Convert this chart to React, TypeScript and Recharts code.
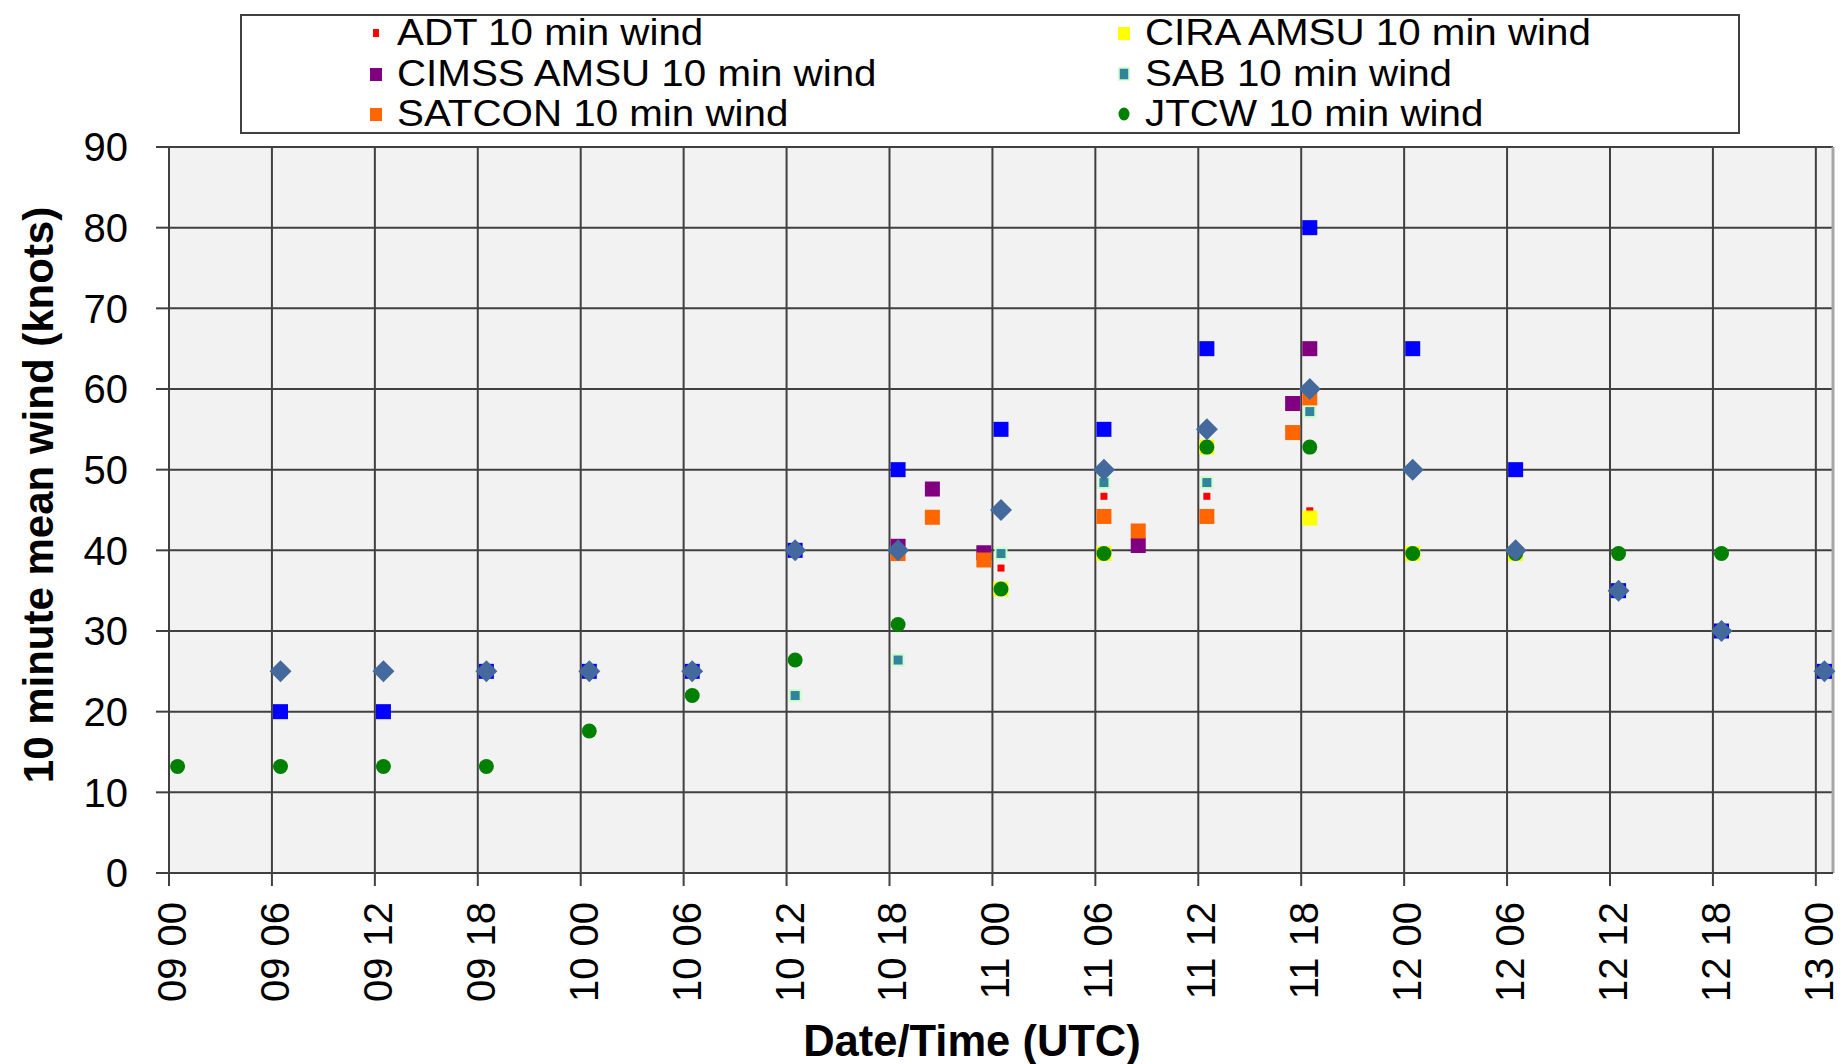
import React from 'react';
import { ScatterChart, Scatter, XAxis, YAxis, CartesianGrid, Legend, ReferenceLine } from 'recharts';

const FONT = '"Liberation Sans", Arial, Helvetica, sans-serif';

// x values are hours after 09/00 UTC
const xTicks = [0, 6, 12, 18, 24, 30, 36, 42, 48, 54, 60, 66, 72, 78, 84, 90, 96];
const yTicks = [0, 10, 20, 30, 40, 50, 60, 70, 80, 90];

const adtHours = [48.5, 54.5, 60.5, 66.5];
const adtWind = [37.8, 46.7, 46.7, 44.9];

const ciraHours = [48.5, 54.5, 60.5, 66.5, 72.5, 78.5];
const ciraWind = [35.2, 39.6, 52.8, 44.0, 39.6, 39.6];

const cimssHours = [42.5, 44.5, 47.5, 56.5, 65.5, 66.5];
const cimssWind = [40.5, 47.6, 39.7, 40.6, 58.2, 65.0];

const sabHours = [36.5, 42.5, 48.5, 54.5, 60.5, 66.5];
const sabWind = [22.0, 26.4, 39.6, 48.4, 48.4, 57.2];

const satconHours = [42.5, 44.5, 47.5, 54.5, 56.5, 60.5, 65.5, 66.5];
const satconWind = [39.6, 44.1, 38.8, 44.2, 42.4, 44.2, 54.6, 58.9];

const jtcwHours = [0.5, 6.5, 12.5, 18.5, 24.5, 30.5, 36.5, 42.5, 48.5, 54.5, 60.5, 66.5, 72.5, 78.5, 84.5, 90.5];
const jtcwWind = [13.2, 13.2, 13.2, 13.2, 17.6, 22.0, 26.4, 30.8, 35.2, 39.6, 52.8, 52.8, 39.6, 39.6, 39.6, 39.6];

const fixHours = [6.5, 12.5, 18.5, 24.5, 30.5, 36.5, 42.5, 48.5, 54.5, 60.5, 66.5, 72.5, 78.5, 84.5, 90.5, 96.5];
const blueWind = [20, 20, 25, 25, 25, 40, 50, 55, 55, 65, 80, 65, 50, 35, 30, 25];
const bestWind = [25, 25, 25, 25, 25, 40, 40, 45, 50, 55, 60, 50, 40, 35, 30, 25];

const zip = (hours: number[], wind: number[]) => hours.map((t, i) => ({ t, w: wind[i] }));

const fmtTick = (h: number) => {
  const day = 9 + Math.floor(h / 24);
  const hr = h % 24;
  return `${String(day).padStart(2, '0')} ${String(hr).padStart(2, '0')}`;
};

const square = (size: number, fill: string, stroke?: string) => (p: any) => (
  <rect
    x={p.cx - size / 2}
    y={p.cy - size / 2}
    width={size}
    height={size}
    fill={fill}
    stroke={stroke || 'none'}
    strokeWidth={stroke ? 2 : 0}
  />
);
const dot = (r: number, fill: string) => (p: any) => <circle cx={p.cx} cy={p.cy} r={r} fill={fill} />;
const diamond = (h: number, fill: string) => (p: any) => (
  <polygon
    points={`${p.cx},${p.cy - h} ${p.cx + h},${p.cy} ${p.cx},${p.cy + h} ${p.cx - h},${p.cy}`}
    fill={fill}
  />
);

// legend entries, in the order the legend lists them
const MARKERS: Record<string, React.ReactNode> = {
  'ADT 10 min wind': <rect x={7} y={6} width={6} height={8} fill="#ff0000" />,
  'CIRA AMSU 10 min wind': <rect x={4} y={4} width={12} height={13} fill="#ffff00" />,
  'CIMSS AMSU 10 min wind': <rect x={4} y={4} width={12} height={13} fill="#800080" />,
  'SAB 10 min wind': <rect x={5} y={4} width={10} height={12} fill="#31849b" stroke="#ccffcc" strokeWidth={1.5} />,
  'SATCON 10 min wind': <rect x={4} y={4} width={12} height={13} fill="#ff6600" />,
  'JTCW 10 min wind': <ellipse cx={10} cy={10} rx={5.5} ry={6.5} fill="#008000" />,
};
const legendOrder = Object.keys(MARKERS);

function LegendBox({ payload }: any) {
  const items = (payload || [])
    .filter((p: any) => p.type !== 'none' && MARKERS[p.value])
    .sort((a: any, b: any) => legendOrder.indexOf(a.value) - legendOrder.indexOf(b.value));
  return (
    <div
      style={{
        width: 1500,
        height: 120,
        boxSizing: 'border-box',
        border: '2px solid #404040',
        background: '#fff',
        fontFamily: FONT,
        fontSize: 36,
        color: '#000',
      }}
    >
      <div style={{ display: 'grid', gridTemplateColumns: '748px 748px', gridAutoRows: '40.5px', marginTop: -3 }}>
        {items.map((p: any) => (
          <div
            key={p.value}
            style={{ display: 'flex', alignItems: 'center', lineHeight: '40px', paddingLeft: 124, whiteSpace: 'nowrap' }}
          >
            <svg width={20} height={20} style={{ marginRight: 11 }}>
              {MARKERS[p.value]}
            </svg>
            <span style={{ display: 'inline-block', transform: 'scaleX(1.12)', transformOrigin: 'left center' }}>
              {p.value}
            </span>
          </div>
        ))}
      </div>
    </div>
  );
}

const XTick = ({ x, y, payload }: any) => (
  <text
    transform={`translate(${x},${y}) rotate(-90)`}
    textAnchor="end"
    dominantBaseline="central"
    dy={3}
    fontFamily={FONT}
    fontSize={40}
    fill="#000"
  >
    {fmtTick(payload.value)}
  </text>
);

const YTitle = ({ viewBox }: any) => (
  <text
    transform={`translate(${viewBox.x + 38},${viewBox.y + viewBox.height / 2 - 15}) rotate(-90)`}
    textAnchor="middle"
    dominantBaseline="central"
    fontFamily={FONT}
    fontWeight="bold"
    fontSize={42}
    fill="#000"
  >
    10 minute mean wind (knots)
  </text>
);

const XTitle = ({ viewBox }: any) => (
  <text
    x={viewBox.x + viewBox.width / 2 - 29}
    y={viewBox.y + 168}
    textAnchor="middle"
    dominantBaseline="central"
    fontFamily={FONT}
    fontWeight="bold"
    fontSize={43.5}
    fill="#000"
  >
    Date/Time (UTC)
  </text>
);

export default function App() {
  return (
    <div style={{ position: 'absolute', left: 0, top: 0, width: 1847, height: 1064, background: '#fff' }}>
      <ScatterChart width={1847} height={1064} margin={{ top: 147, right: 14, bottom: 0, left: 0 }}>
        <CartesianGrid stroke="#404040" strokeWidth={2} fill="#f2f2f2" />
        <XAxis
          type="number"
          dataKey="t"
          domain={[0, 97]}
          ticks={xTicks}
          interval={0}
          height={191}
          tickSize={13}
          tickMargin={16}
          stroke="#404040"
          strokeWidth={2}
          tick={<XTick />}
          label={{ content: <XTitle /> }}
        />
        <YAxis
          type="number"
          dataKey="w"
          domain={[0, 90]}
          ticks={yTicks}
          interval={0}
          width={169}
          tickSize={13}
          tickMargin={28}
          stroke="#404040"
          strokeWidth={2}
          tick={{ fontFamily: FONT, fontSize: 40, fill: '#000' }}
          label={{ content: <YTitle /> }}
        />
        <ReferenceLine x={97} stroke="#a6a6a6" strokeWidth={3} />
        <Legend
          verticalAlign="middle"
          align="center"
          layout="horizontal"
          content={<LegendBox />}
          wrapperStyle={{ left: 240, top: 14, width: 1500, height: 120 }}
        />
        <Scatter name="ADT 10 min wind" data={zip(adtHours, adtWind)} fill="#ff0000" shape={square(7, '#ff0000')} isAnimationActive={false} />
        <Scatter name="CIRA AMSU 10 min wind" data={zip(ciraHours, ciraWind)} fill="#ffff00" shape={square(15, '#ffff00')} isAnimationActive={false} />
        <Scatter name="CIMSS AMSU 10 min wind" data={zip(cimssHours, cimssWind)} fill="#800080" shape={square(15, '#800080')} isAnimationActive={false} />
        <Scatter name="SAB 10 min wind" data={zip(sabHours, sabWind)} fill="#31849b" shape={square(11, '#31849b', '#ccffcc')} isAnimationActive={false} />
        <Scatter name="SATCON 10 min wind" data={zip(satconHours, satconWind)} fill="#ff6600" shape={square(15, '#ff6600')} isAnimationActive={false} />
        <Scatter name="JTCW 10 min wind" data={zip(jtcwHours, jtcwWind)} fill="#008000" shape={dot(7.5, '#008000')} isAnimationActive={false} />
        <Scatter name="JMA 10 min wind" data={zip(fixHours, blueWind)} fill="#0000ff" legendType="none" shape={square(15, '#0000ff')} isAnimationActive={false} />
        <Scatter name="Best track" data={zip(fixHours, bestWind)} fill="#44699c" legendType="none" shape={diamond(11, '#44699c')} isAnimationActive={false} />
      </ScatterChart>
    </div>
  );
}
